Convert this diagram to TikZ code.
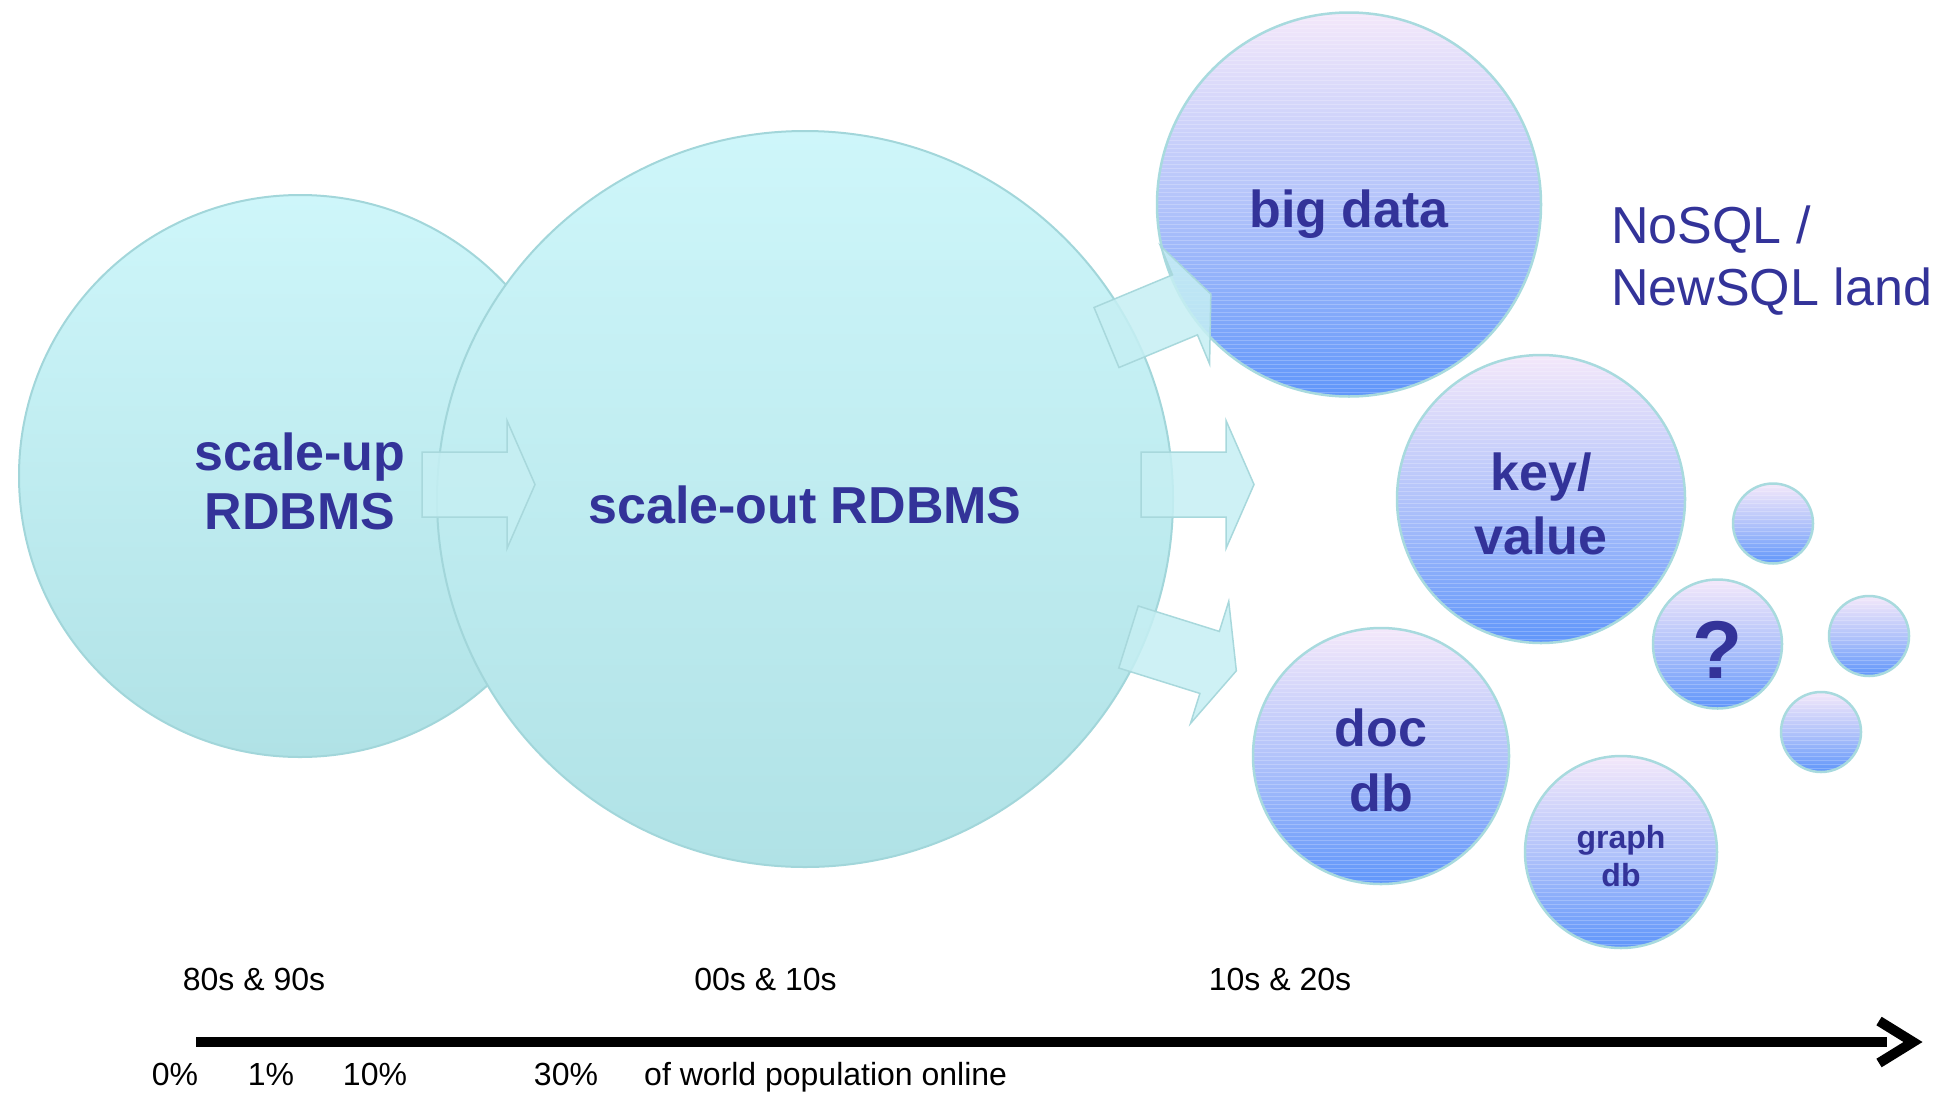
\documentclass[tikz,border=0pt]{standalone}
\usepackage{fontspec}
\setmainfont{Liberation Sans}
\definecolor{txt}{RGB}{51,51,153}
\definecolor{cyTop}{RGB}{206,246,250}
\definecolor{cyBot}{RGB}{176,226,230}
\definecolor{cyLine}{RGB}{162,214,218}
\definecolor{blTop}{RGB}{244,232,250}
\definecolor{blMid}{RGB}{178,195,250}
\definecolor{blBot}{RGB}{96,150,250}
\definecolor{blLine}{RGB}{168,218,222}
\definecolor{arFill}{RGB}{198,239,243}
\definecolor{arLine}{RGB}{168,216,220}
\tikzset{
  cybub/.style={circle, draw=cyLine, line width=2pt, top color=cyTop, bottom color=cyBot, inner sep=0pt, minimum size=#1},
  blbub/.style={circle, draw=blLine, line width=2.5pt, top color=blTop, bottom color=blBot, middle color=blMid, inner sep=0pt, minimum size=#1,
    path picture={
      \foreach \i in {-196,-192,...,196}
        \draw[white, opacity=0.22, line width=0.9pt]
          ([yshift=\i pt]path picture bounding box.west) -- ([yshift=\i pt]path picture bounding box.east);
    }},
  bigtxt/.style={font=\fontsize{52}{60}\selectfont\bfseries, text=txt, inner sep=0pt, anchor=base},
  smalltxt/.style={font=\fontsize{32}{38}\selectfont\bfseries, text=txt, inner sep=0pt, anchor=base},
  landtxt/.style={font=\fontsize{52}{60}\selectfont, text=txt, inner sep=0pt, anchor=base west},
  axtxt/.style={font=\fontsize{32}{36}\selectfont, text=black, inner sep=0pt, anchor=base},
  blockarrow/.style={fill=arFill, fill opacity=0.85, draw=arLine, draw opacity=1, line width=1.5pt, line join=miter}
}
\newcommand{\myblockarrow}[3]{%
  \begin{scope}[shift={(#1,#2)}, rotate=#3]
    \path[blockarrow] (0,32.5) -- (85,32.5) -- (85,64) -- (113,0) -- (85,-64) -- (85,-32.5) -- (0,-32.5) -- cycle;
  \end{scope}}
\begin{document}
\begin{tikzpicture}[x=1pt, y=-1pt]
\useasboundingbox (0,0) rectangle (1943,1093);
% relational bubbles
\node[cybub=562] (su) at (300,476) {};
\node[cybub=736] (so) at (805,499) {};
% NoSQL bubbles
\node[blbub=384] (bd) at (1349,204.5) {};
\node[blbub=288] (kv) at (1541,499) {};
\node[blbub=256] (dd) at (1381,756) {};
\node[blbub=192] (gd) at (1621,852) {};
\node[blbub=129] (qm) at (1717.5,644) {};
\node[blbub=80] (s1) at (1773,523.5) {};
\node[blbub=80] (s2) at (1869,636) {};
\node[blbub=80] (s3) at (1821,732) {};
% block arrows
\myblockarrow{422}{484.5}{0}
\myblockarrow{1141}{484.5}{0}
\myblockarrow{1106.5}{337.5}{22.6}
\myblockarrow{1128.5}{637}{-17.4}
% texts
\node[bigtxt] (tsu1) at (300,470) {scale-up};
\node[bigtxt] (tsu2) at (300,529) {RDBMS};
\node[bigtxt] (tso) at (805,523) {scale-out RDBMS};
\node[bigtxt] (tbd) at (1349,227) {big data};
\node[bigtxt] (tkv1) at (1541,490) {key/};
\node[bigtxt] (tkv2) at (1541,554) {value};
\node[bigtxt] (tdd1) at (1381,746) {doc};
\node[bigtxt] (tdd2) at (1381,811) {db};
\node[smalltxt] (tgd1) at (1621,848) {graph};
\node[smalltxt] (tgd2) at (1621,886) {db};
\node[bigtxt, font=\fontsize{82}{90}\selectfont\bfseries] (tqm) at (1717.5,678) {?};
\node[landtxt] (tl1) at (1611,243) {NoSQL /};
\node[landtxt] (tl2) at (1611,305) {NewSQL land};
% time axis
\coordinate (axS) at (196,1042);
\coordinate (axE) at (1887,1042);
\coordinate (chA) at (1879,1021);
\coordinate (chT) at (1913,1042);
\coordinate (chB) at (1879,1063);
\draw[line width=10pt] (axS) -- (axE);
\draw[line width=10pt, line join=miter] (chA) -- (chT) -- (chB);
\node[axtxt] (e1) at (254,990) {80s \& 90s};
\node[axtxt] (e2) at (765.5,990) {00s \& 10s};
\node[axtxt] (e3) at (1280,990) {10s \& 20s};
\node[axtxt] (p0) at (175,1085) {0\%};
\node[axtxt] (p1) at (271,1085) {1\%};
\node[axtxt] (p10) at (375,1085) {10\%};
\node[axtxt] (p30) at (566,1085) {30\%};
\node[axtxt, anchor=base west] (pw) at (644,1085) {of world population online};
\end{tikzpicture}
\end{document}
